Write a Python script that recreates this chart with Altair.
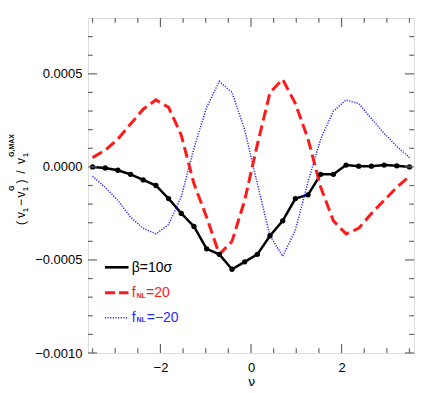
import altair as alt
import pandas as pd

# ---------------- data ----------------
nu = [-3.5, -3.22, -2.94, -2.66, -2.38, -2.10, -1.82, -1.54, -1.26, -0.98,
      -0.70, -0.42, -0.14, 0.14, 0.42, 0.70, 0.98, 1.26, 1.54, 1.82,
      2.10, 2.38, 2.66, 2.94, 3.22, 3.5]
beta_10sigma = [0.0, -0.000006, -0.000018, -0.00004, -0.00007, -0.0001,
                -0.00017, -0.00025, -0.00032, -0.00044, -0.00047, -0.00055,
                -0.00051, -0.00047, -0.00037, -0.00029, -0.00017, -0.00015,
                -0.00004, -0.00004, 0.00001, 0.000004, 0.000004, 0.00001,
                0.000006, 0.0]
fnl_p20 = [0.00005, 0.00009, 0.00015, 0.00023, 0.00031, 0.00036, 0.00032,
           0.00017, -0.00009, -0.00027, -0.00047, -0.00040, -0.00018,
           0.00012, 0.00040, 0.00047, 0.00034, 0.00015, -0.00011, -0.00029,
           -0.00036, -0.00033, -0.00025, -0.00018, -0.00011, -0.00005]
fnl_m20 = [-0.00005, -0.00011, -0.00018, -0.00027, -0.00033, -0.00036,
           -0.00031, -0.00016, 0.0001, 0.00032, 0.00046, 0.0004, 0.0002,
           -0.00009, -0.00037, -0.00048, -0.00034, -0.00008, 0.00015, 0.0003,
           0.00036, 0.00034, 0.00026, 0.00018, 0.00011, 0.00005]

x_major = [-2, 0, 2]
x_minor = [-3.5, -3, -2.5, -1.5, -1, -0.5, 0.5, 1, 1.5, 2.5, 3, 3.5]
y_major = [-0.001, -0.0005, 0.0, 0.0005]
y_minor = [-0.0009, -0.0008, -0.0007, -0.0006, -0.0004, -0.0003, -0.0002,
           -0.0001, 0.0001, 0.0002, 0.0003, 0.0004, 0.0006, 0.0007]

legend_beta = ["β=10σ"]
legend_f = ["f"]
legend_nl = ["NL"]
legend_pos = ["=20"]
legend_neg = ["=−20"]
x_title = "ν"

# ---------------- layout ----------------
W, H = 326, 335
FONT = "Liberation Sans"
RED = "#ff1a1a"
BLUE = "#2a2aff"
TICK = "#666666"

xs = alt.Scale(domain=[-3.6, 3.6], nice=False, zero=False)
ys = alt.Scale(domain=[-0.001, 0.0008], nice=False, zero=False)

df = pd.DataFrame({"nu": nu, "beta": beta_10sigma, "pos": fnl_p20, "neg": fnl_m20})

xaxis = alt.Axis(values=x_major, format="d", ticks=False, domain=False, grid=False,
                 labelFont=FONT, labelFontSize=13, labelColor="black",
                 labelPadding=8, title=x_title, titleFont="DejaVu Sans",
                 titleFontSize=13, titleFontWeight="normal", titleColor="black",
                 titleX=W / 2, titleY=32, titleBaseline="alphabetic",
                 titleAlign="center")
yaxis = alt.Axis(values=y_major, format=".4f", ticks=False, domain=False, grid=False,
                 labelFont=FONT, labelFontSize=13, labelColor="black",
                 labelPadding=6, title=None)


def X(field):
    return alt.X(field, scale=xs, axis=xaxis)


def Y(field):
    return alt.Y(field, scale=ys, axis=yaxis)


base = alt.Chart(df)

black_line = base.mark_line(color="black", strokeWidth=2.5, clip=True).encode(
    x=X("nu:Q"), y=Y("beta:Q"))
black_pts = base.mark_point(color="black", filled=True, size=28, opacity=1, clip=True).encode(
    x=X("nu:Q"), y=Y("beta:Q"))
red_line = base.mark_line(color=RED, strokeWidth=3, strokeDash=[11, 5], clip=True).encode(
    x=X("nu:Q"), y=Y("pos:Q"))
blue_line = base.mark_line(color=BLUE, strokeWidth=1.5, strokeDash=[1.2, 1.4], clip=True).encode(
    x=X("nu:Q"), y=Y("neg:Q"))


def yticks(vals, length):
    d = alt.Chart(pd.DataFrame({"v": vals}))
    left = d.mark_rule(color=TICK, strokeWidth=1.2).encode(
        y=Y("v:Q"), x=alt.value(0), x2=alt.value(length))
    right = d.mark_rule(color=TICK, strokeWidth=1.2).encode(
        y=Y("v:Q"), x=alt.value(W), x2=alt.value(W - length))
    return [left, right]


def xticks(vals, length):
    d = alt.Chart(pd.DataFrame({"v": vals}))
    top = d.mark_rule(color=TICK, strokeWidth=1.2).encode(
        x=X("v:Q"), y=alt.value(0), y2=alt.value(length))
    bottom = d.mark_rule(color=TICK, strokeWidth=1.2).encode(
        x=X("v:Q"), y=alt.value(H), y2=alt.value(H - length))
    return [top, bottom]


ticks = yticks(y_major, 9) + yticks(y_minor, 4.7) + xticks(x_major, 9) + xticks(x_minor, 4.7)


def txt(s, x, y, size=14, color="black", weight="normal", align="left", angle=0,
        font=FONT, baseline="alphabetic"):
    kw = dict(fontSize=size, color=color, fontWeight=weight, align=align,
              baseline=baseline, font=font)
    if angle:
        kw["angle"] = angle
    return alt.Chart(pd.DataFrame({"t": [s]})).mark_text(**kw).encode(
        text="t:N", x=alt.value(x), y=alt.value(y))


def seg(y, color, width, dash=None):
    kw = dict(color=color, strokeWidth=width)
    if dash:
        kw["strokeDash"] = dash
    return alt.Chart(pd.DataFrame({"k": [0]})).mark_rule(**kw).encode(
        x=alt.value(17), x2=alt.value(40.5), y=alt.value(y))


legend = [
    seg(249.3, "black", 2.6),
    txt(legend_beta[0], 43.7, 254),
    seg(274.7, RED, 3, [10, 4]),
    txt(legend_f[0], 43.7, 279.3, color=RED),
    txt(legend_nl[0], 48.5, 279.5, size=7, color=RED, weight="bold"),
    txt(legend_pos[0], 58, 279.3, color=RED),
    seg(299.7, BLUE, 1.5, [1.2, 1.4]),
    txt(legend_f[0], 43.7, 303.7, color=BLUE),
    txt(legend_nl[0], 48.5, 303.9, size=7, color=BLUE, weight="bold"),
    txt(legend_neg[0], 58.7, 303.7, color=BLUE),
]

# y-axis title  (v1 - v1^G) / v1^{G,MAX}, rotated
MX, SBX, SPX = -63.5, -60.0, -74.5
ytitle = [
    txt("(", MX, 205, size=12, align="center", angle=270),
    txt("v", MX, 197, size=12, align="center", angle=270),
    txt("1", SBX, 192, size=7, weight="bold", align="center", angle=270),
    txt("−", MX, 184.5, size=12, align="center", angle=270),
    txt("v", MX, 176.5, size=12, align="center", angle=270),
    txt("1", SBX, 173, size=7, weight="bold", align="left", angle=270),
    txt("G", SPX, 173, size=7, weight="bold", align="left", angle=270),
    txt(")", MX, 163.5, size=12, align="center", angle=270),
    txt("/", MX, 154, size=12, align="center", angle=270),
    txt("v", MX, 143, size=12, align="center", angle=270),
    txt("1", SBX, 139, size=7, weight="bold", align="left", angle=270),
    txt("G,MAX", SPX, 139, size=7, weight="bold", align="left", angle=270),
]

chart = alt.layer(
    black_line, blue_line, red_line, black_pts, *ticks, *legend, *ytitle
).properties(
    width=W, height=H,
    autosize=alt.AutoSizeParams(type="none"),
    padding={"left": 80, "top": 10, "right": 14, "bottom": 40},
).configure_view(stroke="#222222", strokeWidth=1.5).configure(background="white")

chart.save("out.html", embed_options={"renderer": "svg", "actions": False})
